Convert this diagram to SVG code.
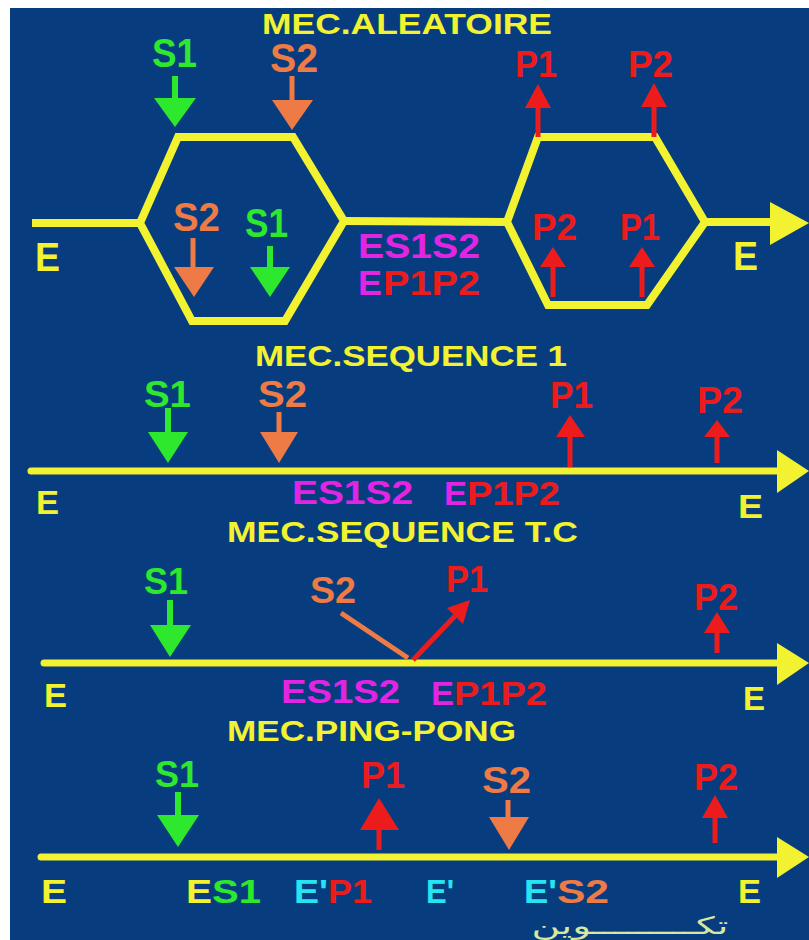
<svg xmlns="http://www.w3.org/2000/svg" width="809" height="940" viewBox="0 0 809 940">
  <style>
    text { font-family: "Liberation Sans", Arial, sans-serif; font-weight: bold; }
    .y { fill: #f2f230; }
    .g { fill: #2ee82e; }
    .o { fill: #ee7a46; }
    .r { fill: #ec1c1c; }
    .m { fill: #e324e3; }
    .c { fill: #26e4f0; }
    .track { stroke: #f2f230; stroke-width: 8; fill: none; stroke-linejoin: miter; }
    .axis { stroke: #f2f230; stroke-width: 7; fill: none; stroke-linecap: round; }
    .sg { stroke: #2ee82e; stroke-width: 6; }
    .so { stroke: #ee7a46; stroke-width: 5; }
    .sr { stroke: #ec1c1c; stroke-width: 5; }
    .t1 { font-size: 40px; }
    .t2 { font-size: 37px; }
    .t3 { font-size: 34px; }
    .tc { font-size: 35px; }
    .h { font-size: 30px; }
  </style>

  <rect width="809" height="940" fill="#ffffff"/>
  <rect x="10" y="8" width="799" height="932" fill="#073d7f"/>

  <!-- ===== Random mechanism ===== -->
  <g id="title-aleatoire"><text class="y h" x="262" y="34" textLength="290" lengthAdjust="spacingAndGlyphs">MEC.ALEATOIRE</text></g>

  <g id="connectors-aleatoire">
    <path class="track" d="M32 223 L140 223"/>
    <polygon class="track" points="178,137 293,137 344,221 285,321 192,321 140,223"/>
    <path class="track" d="M344 221 L507 222"/>
    <polygon class="track" points="538,137 655,137 705,222 647,305 548,305 507,222"/>
    <path class="track" d="M705 222 L775 222"/>
    <polygon class="y" points="770,202 809,223 770,245"/>
    <!-- substrates in -->
    <line class="sg" x1="175" y1="76" x2="175" y2="100"/>
    <polygon class="g" points="154,98 196,98 175,127"/>
    <line class="so" x1="292" y1="76" x2="292" y2="102"/>
    <polygon class="o" points="272,100 313,100 292,130"/>
    <line class="so" x1="193" y1="238" x2="193" y2="269"/>
    <polygon class="o" points="174,267 214,267 194,297"/>
    <line class="sg" x1="270" y1="246" x2="270" y2="269"/>
    <polygon class="g" points="250,267 290,267 270,297"/>
    <!-- products out -->
    <line class="sr" x1="538" y1="137" x2="538" y2="105"/>
    <polygon class="r" points="525,108 551,108 538,84"/>
    <line class="sr" x1="654" y1="137" x2="654" y2="105"/>
    <polygon class="r" points="641,107 667,107 654,83"/>
    <line class="sr" x1="553" y1="297" x2="553" y2="265"/>
    <polygon class="r" points="540,267 566,267 553,247"/>
    <line class="sr" x1="642" y1="297" x2="642" y2="265"/>
    <polygon class="r" points="629,267 655,267 642,247"/>
  </g>

  <g id="a-s1"><text class="g t1" x="152" y="67" textLength="45" lengthAdjust="spacingAndGlyphs">S1</text></g>
  <g id="a-s2"><text class="o t1" x="270" y="72" textLength="48" lengthAdjust="spacingAndGlyphs">S2</text></g>
  <g id="a-p1"><text class="r t2" x="515" y="77" textLength="42" lengthAdjust="spacingAndGlyphs">P1</text></g>
  <g id="a-p2"><text class="r t2" x="628" y="77" textLength="45" lengthAdjust="spacingAndGlyphs">P2</text></g>
  <g id="a-s2-in"><text class="o t1" x="173" y="231" textLength="47" lengthAdjust="spacingAndGlyphs">S2</text></g>
  <g id="a-s1-in"><text class="g t1" x="245" y="237" textLength="43" lengthAdjust="spacingAndGlyphs">S1</text></g>
  <g id="a-p2-in"><text class="r t2" x="532" y="240" textLength="45" lengthAdjust="spacingAndGlyphs">P2</text></g>
  <g id="a-p1-in"><text class="r t2" x="620" y="240" textLength="40" lengthAdjust="spacingAndGlyphs">P1</text></g>
  <g id="a-e-left"><text class="y t1" x="35" y="271" textLength="25" lengthAdjust="spacingAndGlyphs">E</text></g>
  <g id="a-e-right"><text class="y t1" x="733" y="270" textLength="25" lengthAdjust="spacingAndGlyphs">E</text></g>
  <g id="a-es1s2"><text class="m tc" x="358" y="258" textLength="122" lengthAdjust="spacingAndGlyphs">ES1S2</text></g>
  <g id="a-ep1p2">
    <text class="m tc" x="358" y="295" textLength="24" lengthAdjust="spacingAndGlyphs">E</text>
    <text class="r tc" x="383" y="295" textLength="97" lengthAdjust="spacingAndGlyphs">P1P2</text>
  </g>

  <!-- ===== Ordered sequential mechanism ===== -->
  <g id="title-sequence-1"><text class="y h" x="255" y="366" textLength="312" lengthAdjust="spacingAndGlyphs">MEC.SEQUENCE 1</text></g>

  <g id="connectors-sequence-1">
    <path class="axis" d="M31 471 L780 471"/>
    <polygon class="y" points="777,450 809,471 777,493"/>
    <line class="sg" x1="168" y1="408" x2="168" y2="434"/>
    <polygon class="g" points="148,432 188,432 168,463"/>
    <line class="so" x1="279" y1="412" x2="279" y2="434"/>
    <polygon class="o" points="260,432 298,432 279,463"/>
    <line class="sr" x1="570" y1="467" x2="570" y2="435"/>
    <polygon class="r" points="556,437 585,437 570,415"/>
    <line class="sr" x1="717" y1="463" x2="717" y2="435"/>
    <polygon class="r" points="704,437 730,437 717,420"/>
  </g>

  <g id="b-s1"><text class="g t2" x="144" y="407" textLength="47" lengthAdjust="spacingAndGlyphs">S1</text></g>
  <g id="b-s2"><text class="o t2" x="258" y="407" textLength="49" lengthAdjust="spacingAndGlyphs">S2</text></g>
  <g id="b-p1"><text class="r t2" x="550" y="408" textLength="43" lengthAdjust="spacingAndGlyphs">P1</text></g>
  <g id="b-p2"><text class="r t2" x="697" y="413" textLength="46" lengthAdjust="spacingAndGlyphs">P2</text></g>
  <g id="b-e-left"><text class="y t3" x="36" y="514" textLength="23" lengthAdjust="spacingAndGlyphs">E</text></g>
  <g id="b-es1s2"><text class="m t3" x="292" y="504" textLength="121" lengthAdjust="spacingAndGlyphs">ES1S2</text></g>
  <g id="b-ep1p2">
    <text class="m t3" x="444" y="505" textLength="23" lengthAdjust="spacingAndGlyphs">E</text>
    <text class="r t3" x="467" y="505" textLength="93" lengthAdjust="spacingAndGlyphs">P1P2</text>
  </g>
  <g id="b-e-right"><text class="y t3" x="738" y="518" textLength="25" lengthAdjust="spacingAndGlyphs">E</text></g>

  <!-- ===== Theorell-Chance mechanism ===== -->
  <g id="title-sequence-tc"><text class="y h" x="227" y="542" textLength="351" lengthAdjust="spacingAndGlyphs">MEC.SEQUENCE T.C</text></g>

  <g id="connectors-sequence-tc">
    <path class="axis" d="M44 663 L780 663"/>
    <polygon class="y" points="777,643 809,663 777,685"/>
    <line class="sg" x1="170" y1="600" x2="170" y2="627"/>
    <polygon class="g" points="150,625 191,625 170,657"/>
    <line class="so" x1="341" y1="613" x2="408" y2="658"/>
    <line class="sr" x1="413" y1="660" x2="455" y2="616"/>
    <polygon class="r" points="470,600 463,624 447,608"/>
    <line class="sr" x1="717" y1="653" x2="717" y2="630"/>
    <polygon class="r" points="704,633 730,633 717,612"/>
  </g>

  <g id="c-s1"><text class="g t2" x="144" y="594" textLength="44" lengthAdjust="spacingAndGlyphs">S1</text></g>
  <g id="c-s2"><text class="o t2" x="310" y="603" textLength="46" lengthAdjust="spacingAndGlyphs">S2</text></g>
  <g id="c-p1"><text class="r t2" x="446" y="592" textLength="42" lengthAdjust="spacingAndGlyphs">P1</text></g>
  <g id="c-p2"><text class="r t2" x="694" y="610" textLength="44" lengthAdjust="spacingAndGlyphs">P2</text></g>
  <g id="c-e-left"><text class="y t3" x="44" y="707" textLength="23" lengthAdjust="spacingAndGlyphs">E</text></g>
  <g id="c-es1s2"><text class="m t3" x="281" y="703" textLength="119" lengthAdjust="spacingAndGlyphs">ES1S2</text></g>
  <g id="c-ep1p2">
    <text class="m t3" x="431" y="705" textLength="23" lengthAdjust="spacingAndGlyphs">E</text>
    <text class="r t3" x="454" y="705" textLength="93" lengthAdjust="spacingAndGlyphs">P1P2</text>
  </g>
  <g id="c-e-right"><text class="y t3" x="743" y="710" textLength="22" lengthAdjust="spacingAndGlyphs">E</text></g>

  <!-- ===== Ping-pong mechanism ===== -->
  <g id="title-ping-pong"><text class="y h" x="227" y="741" textLength="289" lengthAdjust="spacingAndGlyphs">MEC.PING-PONG</text></g>

  <g id="connectors-ping-pong">
    <path class="axis" d="M41 857 L780 857"/>
    <polygon class="y" points="777,837 809,857 777,878"/>
    <line class="sg" x1="178" y1="792" x2="178" y2="817"/>
    <polygon class="g" points="157,815 199,815 178,847"/>
    <line class="sr" x1="379" y1="850" x2="379" y2="828"/>
    <polygon class="r" points="360,830 399,830 379,798"/>
    <line class="so" x1="508" y1="800" x2="508" y2="819"/>
    <polygon class="o" points="489,817 529,817 509,850"/>
    <line class="sr" x1="715" y1="843" x2="715" y2="816"/>
    <polygon class="r" points="702,818 728,818 715,795"/>
  </g>

  <g id="d-s1"><text class="g t2" x="155" y="787" textLength="44" lengthAdjust="spacingAndGlyphs">S1</text></g>
  <g id="d-p1"><text class="r t2" x="361" y="788" textLength="44" lengthAdjust="spacingAndGlyphs">P1</text></g>
  <g id="d-s2"><text class="o t2" x="482" y="793" textLength="49" lengthAdjust="spacingAndGlyphs">S2</text></g>
  <g id="d-p2"><text class="r t2" x="694" y="790" textLength="44" lengthAdjust="spacingAndGlyphs">P2</text></g>
  <g id="d-e-left"><text class="y t3" x="41" y="903" textLength="26" lengthAdjust="spacingAndGlyphs">E</text></g>
  <g id="d-es1">
    <text class="y t3" x="186" y="903" textLength="26" lengthAdjust="spacingAndGlyphs">E</text>
    <text class="g t3" x="212" y="903" textLength="49" lengthAdjust="spacingAndGlyphs">S1</text>
  </g>
  <g id="d-ep1">
    <text class="c t3" x="294" y="903" textLength="34" lengthAdjust="spacingAndGlyphs">E'</text>
    <text class="r t3" x="328" y="903" textLength="44" lengthAdjust="spacingAndGlyphs">P1</text>
  </g>
  <g id="d-e-prime"><text class="c t3" x="426" y="903" textLength="28" lengthAdjust="spacingAndGlyphs">E'</text></g>
  <g id="d-es2">
    <text class="c t3" x="524" y="903" textLength="33" lengthAdjust="spacingAndGlyphs">E'</text>
    <text class="o t3" x="557" y="903" textLength="52" lengthAdjust="spacingAndGlyphs">S2</text>
  </g>
  <g id="d-e-right"><text class="y t3" x="738" y="903" textLength="23" lengthAdjust="spacingAndGlyphs">E</text></g>

  <!-- signature -->
  <g id="signature"><text x="630" y="934" text-anchor="middle" textLength="197" lengthAdjust="spacingAndGlyphs" style="font-family:'DejaVu Sans', sans-serif; font-weight:normal; font-size:24px; fill:#d6e8a0;">تكـــــــــوين</text></g>
</svg>
